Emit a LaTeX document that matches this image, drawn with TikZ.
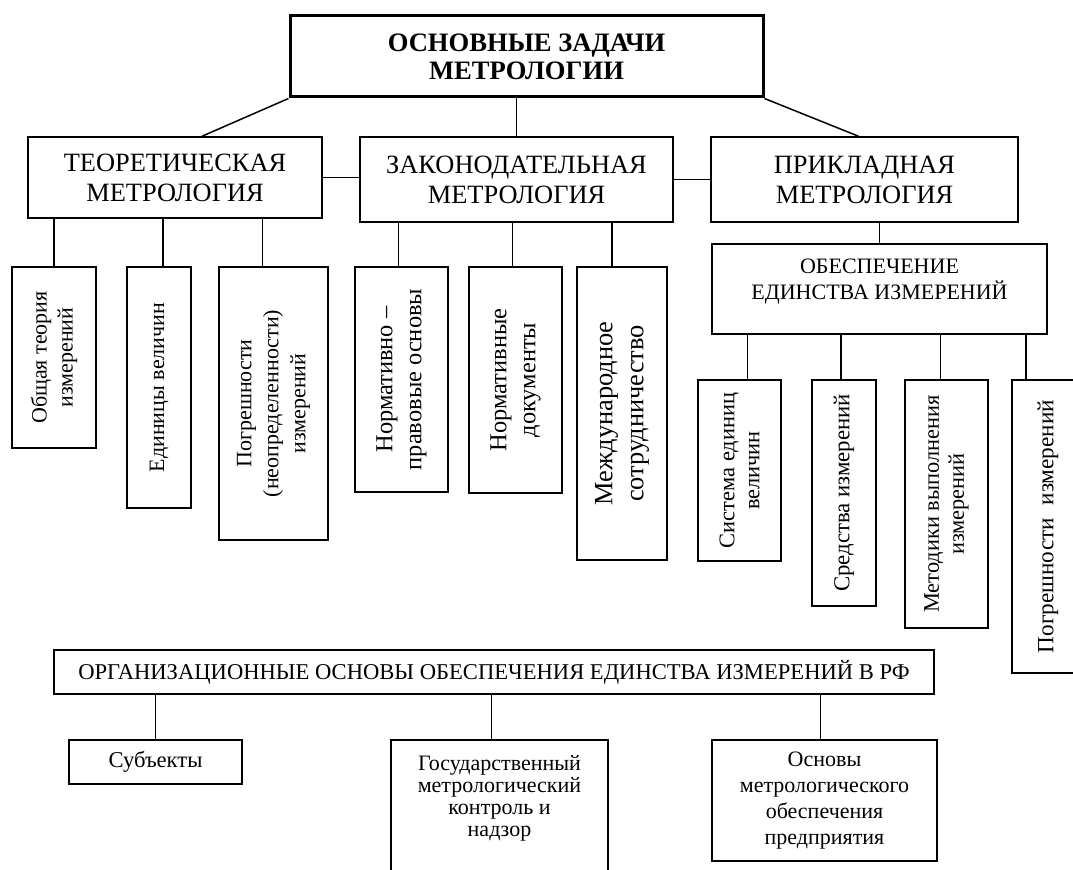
\documentclass[tikz,border=0pt]{standalone}
\usepackage{fontspec}
\setmainfont{Liberation Serif}
\usetikzlibrary{calc}

\tikzset{
  box/.style={draw, line width=.75pt, inner sep=0pt, align=center},
  vbox/.style={box, rotate=90},
}

\begin{document}
\begin{tikzpicture}[x=.5pt,y=-.5pt,line width=.75pt]
        \useasboundingbox (0,0) rectangle (1073,870);
        \clip (0,0) rectangle (1073,870);
        % главный блок
        \node[box, line width=1.5pt, minimum width=236.5pt, minimum height=40.5pt,
              font=\fontsize{13.3}{14}\selectfont\bfseries] (main) at (526.5,56.5)
              {ОСНОВНЫЕ ЗАДАЧИ\\МЕТРОЛОГИИ};
        % три раздела метрологии
        \node[box, minimum width=147pt, minimum height=40.5pt,
              font=\fontsize{13.2}{15}\selectfont] (teor) at (175,177.5)
              {ТЕОРЕТИЧЕСКАЯ\\МЕТРОЛОГИЯ};
        \node[box, minimum width=156.5pt, minimum height=42.5pt,
              font=\fontsize{13.2}{15}\selectfont] (zak) at (516.5,179.5)
              {ЗАКОНОДАТЕЛЬНАЯ\\МЕТРОЛОГИЯ};
        \node[box, minimum width=153.5pt, minimum height=42.5pt,
              font=\fontsize{13.2}{15}\selectfont] (prikl) at (864.5,179.5)
              {ПРИКЛАДНАЯ\\МЕТРОЛОГИЯ};
        \draw (main.south west) -- ($(teor.north)+(27,0)$);
        \draw (zak.north) -- (zak.north |- main.south);
        \draw (main.south east) -- ($(prikl.north)+(-6,0)$);
        \draw (teor.east) -- (teor.east -| zak.west);
        \draw (zak.east) -- (zak.east -| prikl.west);

        % теоретическая метрология
        \node[vbox, minimum width=90.5pt, minimum height=42pt,
              font=\fontsize{11}{13}\selectfont] (t1) at (54,357.5)
              {Общая теория\\измерений};
        \node[vbox, minimum width=120.5pt, minimum height=32pt,
              font=\fontsize{11}{13}\selectfont] (t2) at (159,387.5)
              {Единицы величин};
        \node[vbox, minimum width=136.5pt, minimum height=54.5pt,
              font=\fontsize{11}{13.5}\selectfont] (t3) at (273.5,403.5)
              {Погрешности\\(неопределенности)\\измерений};
        \foreach \n/\s in {t1/0, t2/4, t3/-11}
          \draw ($(\n.east)+(\s,0)$) -- ($(\n.east |- teor.south)+(\s,0)$);

        % законодательная метрология
        \node[vbox, minimum width=112.5pt, minimum height=46.5pt,
              font=\fontsize{12.2}{14.5}\selectfont] (z1) at (401.5,379.5)
              {Нормативно –\\правовые основы};
        \node[vbox, minimum width=113pt, minimum height=46.5pt,
              font=\fontsize{12.2}{14.5}\selectfont] (z2) at (515.5,380)
              {Нормативные\\документы};
        \node[vbox, minimum width=146.5pt, minimum height=45pt,
              font=\fontsize{13.2}{15.5}\selectfont] (z3) at (622,413.5)
              {Международное\\сотрудничество};
        \foreach \n/\s in {z1/-3, z2/-3, z3/-10}
          \draw ($(\n.east)+(\s,0)$) -- ($(\n.east |- zak.south)+(\s,0)$);

        % прикладная метрология
        \node[box, minimum width=167.5pt, minimum height=45pt] (obesp) at (879.5,289) {};
        \node[align=center, inner sep=0pt, font=\fontsize{11}{13}\selectfont]
              (obesptext) at ($(obesp.center)+(0,-7)$)
              {ОБЕСПЕЧЕНИЕ\\ЕДИНСТВА ИЗМЕРЕНИЙ};
        \draw (obesp.north) -- (obesp.north |- prikl.south);
        \node[vbox, minimum width=90.5pt, minimum height=41.5pt,
              font=\fontsize{11.2}{12.5}\selectfont] (p1) at (739.5,470.5)
              {Система единиц\\величин};
        \node[vbox, minimum width=113pt, minimum height=32pt,
              font=\fontsize{11.4}{12.5}\selectfont] (p2) at (844,493)
              {Средства измерений};
        \node[vbox, minimum width=124pt, minimum height=41.5pt,
              font=\fontsize{11.2}{12.5}\selectfont] (p3) at (946.5,504)
              {Методики выполнения\\измерений};
        \node[vbox, minimum width=146.5pt, minimum height=36pt,
              font=\fontsize{11.6}{12.5}\selectfont] (p4) at (1048,526.5)
              {Погрешности\hspace{0.55em}измерений};
        \foreach \n/\s in {p1/8, p2/-3, p3/-6, p4/-22}
          \draw ($(\n.east)+(\s,0)$) -- ($(\n.east |- obesp.south)+(\s,0)$);

        % организационные основы
        \node[box, minimum width=440pt, minimum height=22pt,
              font=\fontsize{11.3}{14}\selectfont] (org) at (494,672)
              {ОРГАНИЗАЦИОННЫЕ ОСНОВЫ ОБЕСПЕЧЕНИЯ ЕДИНСТВА ИЗМЕРЕНИЙ В РФ};
        \node[box, minimum width=86.5pt, minimum height=22pt,
              font=\fontsize{11.3}{13}\selectfont] (b1) at (155.5,762) {Субъекты};
        \node[box, minimum width=108.5pt, minimum height=80pt] (b2) at (499.5,820) {};
        \node[align=center, anchor=north, inner sep=0pt,
              font=\fontsize{11}{11}\selectfont] (b2text) at ($(b2.north)+(0,15)$)
              {Государственный\\метрологический\\контроль и\\надзор};
        \node[box, minimum width=112.5pt, minimum height=60.5pt,
              font=\fontsize{11}{13}\selectfont] (b3) at (824.5,800.5)
              {Основы\\метрологического\\обеспечения\\предприятия};
        \foreach \n/\s in {b1/0, b2/-8, b3/-4}
          \draw ($(\n.north)+(\s,0)$) -- ($(\n.north |- org.south)+(\s,0)$);

    \end{tikzpicture}
\end{document}
